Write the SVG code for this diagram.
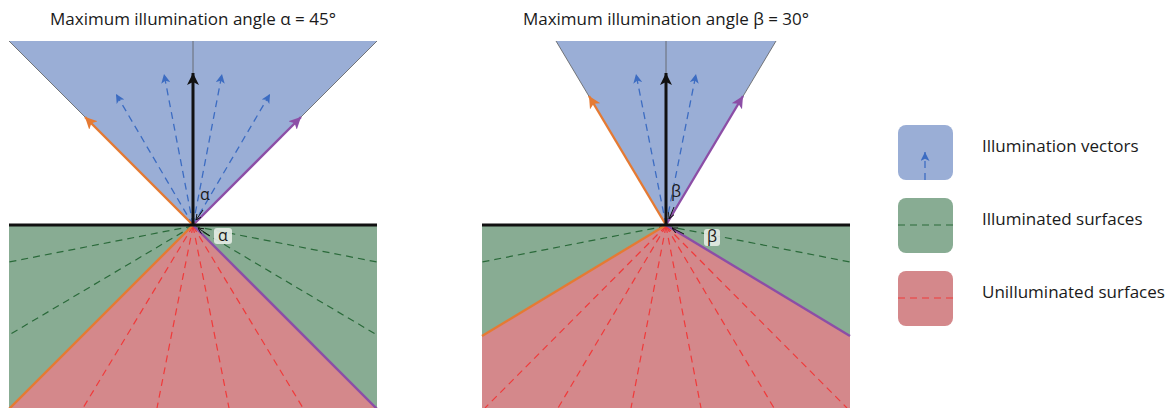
<svg xmlns="http://www.w3.org/2000/svg" width="1170" height="408" viewBox="0 0 1170 408">
<style>
text{font-family:"Open Sans","Noto Sans","Liberation Sans",sans-serif;fill:#1a1a1a}
.title{font-size:17px;text-anchor:middle}
.leg{font-size:17px}
.cone{fill:#9aaed6}
.green{fill:#88ac93}
.red{fill:#d4888b}
.edge{stroke:#5a5a5a;stroke-width:0.8;fill:none}
.ground{stroke:#111;stroke-width:3}
.vec{stroke:#111;stroke-width:3;fill:none}
.org{stroke:#e57a33;stroke-width:2.4;fill:none}
.pur{stroke:#8c4ea6;stroke-width:2.4;fill:none}
.bd{stroke:#3c6cc2;stroke-width:1.3;stroke-dasharray:7 5;fill:none}
.gd{stroke:#2a6a3a;stroke-width:1.2;stroke-dasharray:7 5;fill:none}
.rd{stroke:#f03a3a;stroke-width:1.2;stroke-dasharray:7 5;fill:none}
.small{stroke:#111;stroke-width:1;fill:none}
.lbl{font-size:16px;text-anchor:middle}
.lblbox{fill:#e6ece6;opacity:0.9}
</style>
<defs>
<marker id="ahK" markerUnits="userSpaceOnUse" viewBox="0 0 10 10" refX="10" refY="5" markerWidth="12" markerHeight="12" orient="auto"><path d="M0,0 L10,5 L0,10 L2.5,5 z" fill="#111"/></marker>
<marker id="ahO" markerUnits="userSpaceOnUse" viewBox="0 0 10 10" refX="10" refY="5" markerWidth="12" markerHeight="12" orient="auto"><path d="M0,0 L10,5 L0,10 L2.5,5 z" fill="#e57a33"/></marker>
<marker id="ahP" markerUnits="userSpaceOnUse" viewBox="0 0 10 10" refX="10" refY="5" markerWidth="12" markerHeight="12" orient="auto"><path d="M0,0 L10,5 L0,10 L2.5,5 z" fill="#8c4ea6"/></marker>
<marker id="ahB" markerUnits="userSpaceOnUse" viewBox="0 0 10 10" refX="10" refY="5" markerWidth="9" markerHeight="9" orient="auto"><path d="M0,0 L10,5 L0,10 L2.5,5 z" fill="#3c6cc2"/></marker>
<marker id="ahS" markerUnits="userSpaceOnUse" viewBox="0 0 10 10" refX="10" refY="5" markerWidth="6" markerHeight="6" orient="auto"><path d="M0,0 L10,5 L0,10" fill="none" stroke="#111" stroke-width="1.5"/></marker>
</defs>

<!-- Left panel -->
<g id="left-panel">
<text class="title" x="193" y="25">Maximum illumination angle α = 45°</text>
<polygon class="cone" points="9,41 377,41 193,225"/>
<rect class="green" x="9" y="225" width="368" height="183"/>
<polygon class="red" points="193,225 10,408 376,408"/>
<line class="edge" x1="9" y1="41" x2="86" y2="118"/>
<line class="edge" x1="377" y1="41" x2="300" y2="118"/>
<line class="edge" x1="193" y1="41" x2="193" y2="80"/>
<line class="gd" x1="193" y1="226" x2="9" y2="262"/>
<line class="gd" x1="193" y1="226" x2="9" y2="335"/>
<line class="gd" x1="193" y1="226" x2="377" y2="262"/>
<line class="gd" x1="193" y1="226" x2="377" y2="335"/>
<line class="rd" x1="193" y1="226" x2="83" y2="408"/>
<line class="rd" x1="193" y1="226" x2="157" y2="408"/>
<line class="rd" x1="193" y1="226" x2="229" y2="408"/>
<line class="rd" x1="193" y1="226" x2="303" y2="408"/>
<line class="bd" x1="193" y1="225" x2="116" y2="94" marker-end="url(#ahB)"/>
<line class="bd" x1="193" y1="225" x2="164" y2="74" marker-end="url(#ahB)"/>
<line class="bd" x1="193" y1="225" x2="222" y2="74" marker-end="url(#ahB)"/>
<line class="bd" x1="193" y1="225" x2="270" y2="94" marker-end="url(#ahB)"/>
<line class="org" x1="193" y1="225" x2="85" y2="117" marker-end="url(#ahO)"/>
<line class="pur" x1="193" y1="225" x2="301" y2="117" marker-end="url(#ahP)"/>
<line class="org" x1="193" y1="225" x2="9" y2="409"/>
<line class="pur" x1="193" y1="225" x2="377" y2="409"/>
<line class="ground" x1="9" y1="225" x2="377" y2="225"/>
<line class="vec" x1="193" y1="225" x2="193" y2="73" marker-end="url(#ahK)"/>
<text class="lbl" x="205" y="200">α</text>
<line class="small" x1="203" y1="210" x2="196" y2="220" marker-end="url(#ahS)"/>
<line class="small" x1="210" y1="236" x2="198" y2="228" marker-end="url(#ahS)"/>
<rect class="lblbox" x="214" y="228" width="18" height="16" rx="3"/>
<text class="lbl" x="223" y="241">α</text>
</g>

<!-- Right panel -->
<g id="right-panel">
<text class="title" x="666" y="25">Maximum illumination angle β = 30°</text>
<polygon class="cone" points="556,41 776,41 666,225"/>
<rect class="green" x="482" y="225" width="368" height="183"/>
<polygon class="red" points="666,225 482,336 482,408 850,408 850,336"/>
<line class="edge" x1="556" y1="41" x2="590" y2="98"/>
<line class="edge" x1="776" y1="41" x2="742" y2="98"/>
<line class="edge" x1="666" y1="41" x2="666" y2="80"/>
<line class="gd" x1="666" y1="226" x2="482" y2="262"/>
<line class="gd" x1="666" y1="226" x2="850" y2="262"/>
<line class="rd" x1="666" y1="226" x2="485" y2="408"/>
<line class="rd" x1="666" y1="226" x2="558" y2="408"/>
<line class="rd" x1="666" y1="226" x2="631" y2="408"/>
<line class="rd" x1="666" y1="226" x2="701" y2="408"/>
<line class="rd" x1="666" y1="226" x2="774" y2="408"/>
<line class="rd" x1="666" y1="226" x2="847" y2="408"/>
<line class="org" x1="666" y1="225" x2="482" y2="336"/>
<line class="pur" x1="666" y1="225" x2="850" y2="336"/>
<line class="bd" x1="666" y1="225" x2="636" y2="74" marker-end="url(#ahB)"/>
<line class="bd" x1="666" y1="225" x2="696" y2="74" marker-end="url(#ahB)"/>
<line class="org" x1="666" y1="225" x2="589" y2="96" marker-end="url(#ahO)"/>
<line class="pur" x1="666" y1="225" x2="743" y2="96" marker-end="url(#ahP)"/>
<line class="ground" x1="482" y1="225" x2="850" y2="225"/>
<line class="vec" x1="666" y1="225" x2="666" y2="73" marker-end="url(#ahK)"/>
<text class="lbl" x="676" y="197">β</text>
<line class="small" x1="674" y1="207" x2="669" y2="219" marker-end="url(#ahS)"/>
<line class="small" x1="684" y1="234" x2="672" y2="228" marker-end="url(#ahS)"/>
<rect class="lblbox" x="704" y="229" width="16" height="17" rx="3"/>
<text class="lbl" x="712" y="242">β</text>
</g>

<!-- Legend -->
<g id="legend-vectors">
<rect x="898" y="125" width="55" height="55" rx="8" class="cone"/>
<line class="bd" x1="925" y1="180" x2="925" y2="152" marker-end="url(#ahB)"/>
<text class="leg" x="982" y="152">Illumination vectors</text>
</g>
<g id="legend-illuminated">
<rect x="898" y="198" width="55" height="55" rx="8" class="green"/>
<line class="gd" x1="898" y1="225" x2="953" y2="225"/>
<text class="leg" x="982" y="225">Illuminated surfaces</text>
</g>
<g id="legend-unilluminated">
<rect x="898" y="271" width="55" height="55" rx="8" class="red"/>
<line class="rd" x1="898" y1="298" x2="953" y2="298"/>
<text class="leg" x="982" y="298">Unilluminated surfaces</text>
</g>
</svg>
